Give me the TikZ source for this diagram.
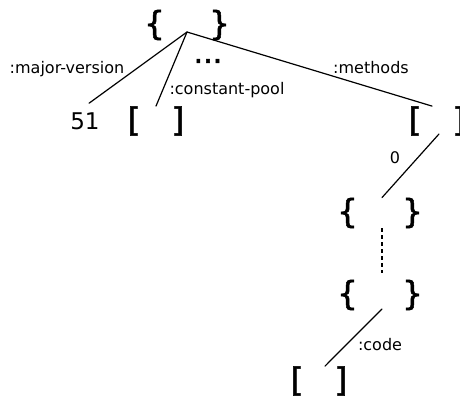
\documentclass[tikz,border=0pt]{standalone}
\usepackage{fontspec}
\setmainfont{DejaVu Sans}
\newfontfamily\brcfont[FakeBold=1.6]{DejaVu Sans}
\tikzset{
  brc/.style={inner sep=0pt,font=\brcfont\fontsize{33}{33}\selectfont},
  lbl/.style={inner sep=0pt,anchor=base,font=\fontsize{16}{16}\selectfont},
  num/.style={inner sep=0pt,font=\fontsize{23}{23}\selectfont},
  edge/.style={line width=1.2pt,line cap=round}
}
\begin{document}
\begin{tikzpicture}[x=1pt,y=-1pt]
\useasboundingbox (0,0) rectangle (460,397);
% class map and its keys
\node[brc] (cls) at (187,25) {\{\hspace{44pt}\}};
\node[num] (major) at (85,121) {51};
\node[brc] (pool) at (156,121) {[\hspace{31pt}]};
\node[brc] (methods) at (437,121) {[\hspace{31pt}]};
\node[brc,font=\brcfont\fontsize{30}{30}\selectfont] (more) at (208,61) {...};
\draw[edge] ([yshift=-7pt]cls.center) -- ([shift={(4pt,9pt)}]major.north);
\draw[edge] ([yshift=-7pt]cls.center) -- (pool.north);
\draw[edge] ([yshift=-7pt]cls.center) -- ([xshift=-5pt]methods.north);
\node[lbl] (lmajor) at (67,73) {:major-version};
\node[lbl] (lpool) at (227,94) {:constant-pool};
\node[lbl] (lmethods) at (371,73) {:methods};
% first method down to its code
\node[brc] (m0) at (380,213) {\{\hspace{44pt}\}};
\node[brc] (mk) at (380,295) {\{\hspace{44pt}\}};
\node[brc] (code) at (319,381) {[\hspace{31pt}]};
\draw[edge] ([shift={(2pt,-13pt)}]methods.center) -- ([xshift=2pt]m0.north);
\node[lbl] (l0) at (395,163) {0};
\draw[edge,line cap=butt,dash pattern=on 4pt off 3pt] ([shift={(2pt,-15pt)}]m0.center) -- ([shift={(2pt,7pt)}]mk.north);
\draw[edge] ([shift={(2pt,-14pt)}]mk.center) -- ([xshift=6pt]code.north);
\node[lbl] (lcode) at (380,350) {:code};
\end{tikzpicture}
\end{document}
